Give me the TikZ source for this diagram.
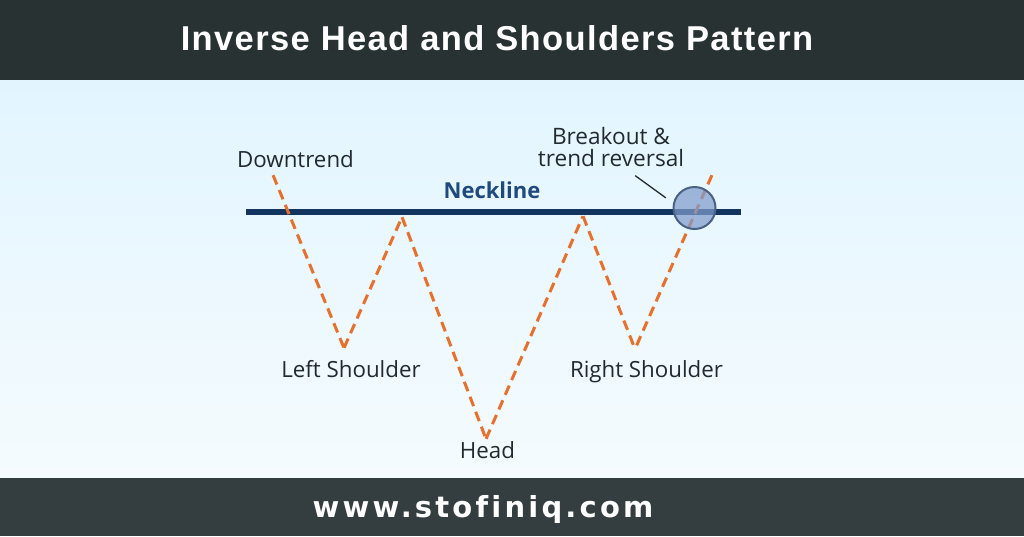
\documentclass[tikz,border=0pt]{standalone}
\usepackage{fontspec}
\setmainfont{Open Sans}
\newfontfamily\titlefont[LetterSpace=4]{Liberation Sans Bold}
\newfontfamily\footfont[LetterSpace=11,Ligatures=NoCommon]{DejaVu Sans Bold}
\definecolor{barTop}{HTML}{293233}
\definecolor{barBot}{HTML}{343D40}
\definecolor{skyTop}{HTML}{E2F5FF}
\definecolor{skyBot}{HTML}{F5FBFE}
\definecolor{neck}{HTML}{12345F}
\definecolor{neckText}{HTML}{1F4A80}
\definecolor{trend}{HTML}{E8702A}
\definecolor{ink}{HTML}{222A2E}
\definecolor{ring}{HTML}{4A6186}
\definecolor{ringFill}{HTML}{7F9CCB}
\begin{document}
\begin{tikzpicture}[x=1pt,y=-1pt,
  lbl/.style={font=\fontsize{22.3}{26}\selectfont,text=ink,inner sep=0pt,align=center,anchor=base},
  trendline/.style={draw=trend,line width=3pt,dash pattern=on 10pt off 6pt},
  pt/.style={inner sep=0pt,minimum size=0pt}]
\useasboundingbox (0,0) rectangle (1024,536);
\shade[top color=skyTop,bottom color=skyBot] (0,80) rectangle (1024,477);
\fill[barTop] (0,0) rectangle (1024,79.5);
\fill[barBot] (0,477.5) rectangle (1024,536);
\node[inner sep=0pt,anchor=base,text=white,font=\titlefont\fontsize{34.5}{38}\selectfont] (title) at (497,50) {Inverse Head and Shoulders Pattern};
\node[inner sep=0pt,anchor=base,text=white,font=\footfont\fontsize{29}{33}\selectfont] (foot) at (483,517.5) {www.stofiniq.com};
\node[pt] (nl) at (246,211.5) {};
\node[pt] (nr) at (741,211.5) {};
\draw[neck,line width=6pt] (nl) -- (nr);
\node[pt] (a) at (273,175) {};
\node[pt] (b) at (344,348) {};
\node[pt] (c) at (402,217) {};
\node[pt] (d) at (486,439) {};
\node[pt] (e) at (583,216) {};
\node[pt] (f) at (635,349) {};
\node[pt] (g) at (712,175) {};
\draw[trendline] (a) -- (b);
\draw[trendline] (b) -- (c);
\draw[trendline] (c) -- (d);
\draw[trendline] (d) -- (e);
\draw[trendline] (e) -- (f);
\draw[trendline] (g) -- (f);
\node[circle,draw=ring,line width=2pt,fill=ringFill,fill opacity=0.72,minimum size=42pt,inner sep=0pt] (circ) at (694.5,208) {};
\node[pt] (lead1) at (635,175.5) {};
\node[pt] (lead2) at (666,198) {};
\draw[ink,line width=1.3pt] (lead1) -- (lead2);
\node[lbl] (down) at (295.5,167) {Downtrend};
\node[lbl] (ls) at (351,377) {Left Shoulder};
\node[lbl] (head) at (487.5,458) {Head};
\node[lbl] (rs) at (646.5,377) {Right Shoulder};
\node[lbl,anchor=base,font=\fontsize{22.6}{22}\selectfont] (bo) at (611,166) {Breakout \&\\trend reversal};
\node[inner sep=0pt,anchor=base,text=neckText,font=\fontsize{22}{26}\selectfont\bfseries] (nk) at (492,198) {Neckline};
\end{tikzpicture}
\end{document}
